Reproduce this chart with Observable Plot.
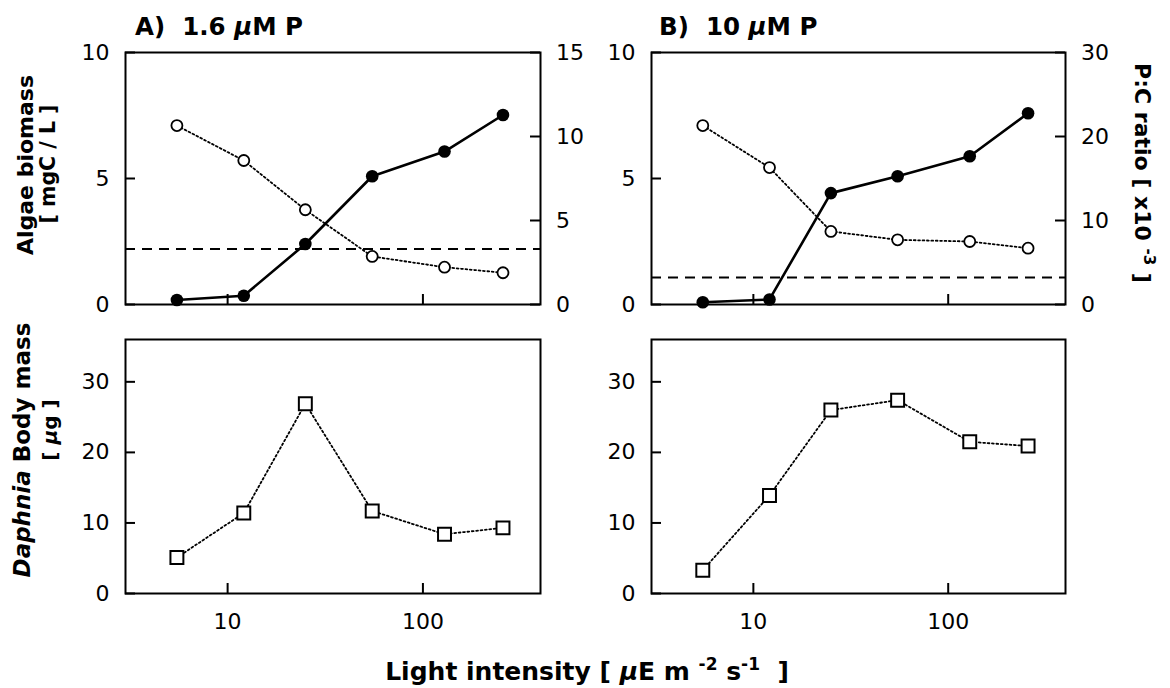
<!DOCTYPE html>
<html><head><meta charset="utf-8">
<script src="https://cdn.jsdelivr.net/npm/d3@7"></script>
<script src="https://cdn.jsdelivr.net/npm/@observablehq/plot@0.6"></script>
<style>
html,body{margin:0;padding:0;background:#fff;}
#chart{position:relative;width:1170px;height:688px;overflow:hidden;background:#fff;}
#chart svg{position:absolute;}
</style></head><body><div id="chart"></div>
<script>
// ---- data ----
const light = [5.5, 12.1, 25, 55, 129, 257];           // light intensity (µE m-2 s-1)
const algaeA = [0.18, 0.35, 2.40, 5.09, 6.07, 7.52];     // algae biomass mgC/L, 1.6 µM P
const pcA = [10.65, 8.57, 5.64, 2.86, 2.22, 1.89];       // P:C ratio x10-3, 1.6 µM P
const algaeB = [0.09, 0.20, 4.42, 5.09, 5.88, 7.59];     // algae biomass, 10 µM P
const pcB = [21.3, 16.3, 8.7, 7.7, 7.5, 6.7];            // P:C ratio, 10 µM P
const thresholdA = [3.3];                                 // dashed P:C threshold
const thresholdB = [3.2];
const daphA = [5.1, 11.4, 26.9, 11.7, 8.4, 9.3];          // Daphnia body mass µg, 1.6 µM P
const daphB = [3.3, 13.9, 26.0, 27.4, 21.5, 20.9];        // Daphnia body mass µg, 10 µM P
const xTicks = [10, 100];
const algaeTicks = [0, 5, 10];
const pcTicksA = [0, 5, 10, 15];
const pcTicksB = [0, 10, 20, 30];
const massTicks = [0, 10, 20, 30];

const FONT = "'DejaVu Sans', 'Liberation Sans', sans-serif";
const chart = document.getElementById("chart");
const baseStyle = {background: "transparent", fontFamily: FONT, fontSize: "22px", color: "black", overflow: "visible", maxWidth: "none"};
const xScale = {type: "log", domain: [3, 400], axis: null};
const TICK = 10;     // inward tick length
const W = 585;
const DOTS = "1.8,2.6";

function place(el, left, top) {
  el.style.left = left + "px";
  el.style.top = top + "px";
  chart.append(el);
}

// inward ticks drawn as tick marks inset from the opposite side of the frame
function innerTicksX(ticks, frameH) {
  return Plot.tickX(ticks, {x: d => d, stroke: "black", strokeWidth: 2, insetTop: frameH - TICK});
}
function innerTicksY(ticks, frameW, side) {
  const o = side === "left" ? {insetRight: frameW - TICK} : {insetLeft: frameW - TICK};
  return Plot.tickY(ticks, {y: d => d, stroke: "black", strokeWidth: 2, ...o});
}

function topPanel(left, ml, mr, algae, pc, pcMax, pcTicks, thr) {
  const rows = light.map((x, i) => ({x, algae: algae[i], pc: pc[i]}));
  const H = 330, mt = 52, mb = 26;
  const fw = W - ml - mr, fh = H - mt - mb;
  const base = {width: W, height: H, marginLeft: ml, marginRight: mr, marginTop: mt, marginBottom: mb, style: baseStyle};
  const p1 = Plot.plot({...base, x: xScale, y: {domain: [0, 10], axis: null},
    marks: [
      Plot.frame({stroke: "black", strokeWidth: 2}),
      innerTicksY(algaeTicks, fw, "left"),
      innerTicksX(xTicks, fh),
      Plot.axisY(algaeTicks, {anchor: "left", tickSize: 0, tickPadding: 16, label: null, fontSize: 22}),
      Plot.line(rows, {x: "x", y: "algae", stroke: "black", strokeWidth: 2.6}),
      Plot.dot(rows, {x: "x", y: "algae", r: 6.3, fill: "black"})
    ]});
  const p2 = Plot.plot({...base, x: xScale, y: {domain: [0, pcMax], axis: null},
    marks: [
      innerTicksY(pcTicks, fw, "right"),
      Plot.axisY(pcTicks, {anchor: "right", tickSize: 0, tickPadding: 15.5, label: null, fontSize: 22}),
      Plot.ruleY(thr, {stroke: "black", strokeWidth: 2, strokeDasharray: "10,7"}),
      Plot.line(rows, {x: "x", y: "pc", stroke: "black", strokeWidth: 1.8, strokeDasharray: DOTS}),
      Plot.dot(rows, {x: "x", y: "pc", r: 5.5, fill: "white", stroke: "black", strokeWidth: 1.8})
    ]});
  place(p1, left, 0);
  place(p2, left, 0);
}

function bottomPanel(left, ml, mr, daph) {
  const rows = light.map((x, i) => ({x, m: daph[i]}));
  const H = 378, mt = 29, mb = 95;
  const fw = W - ml - mr, fh = H - mt - mb;
  const p = Plot.plot({width: W, height: H, marginLeft: ml, marginRight: mr, marginTop: mt, marginBottom: mb, style: baseStyle,
    x: xScale, y: {domain: [0, 36], axis: null},
    marks: [
      Plot.frame({stroke: "black", strokeWidth: 2}),
      innerTicksY(massTicks, fw, "left"),
      innerTicksX(xTicks, fh),
      Plot.axisY(massTicks, {anchor: "left", tickSize: 0, tickPadding: 16, label: null, fontSize: 22}),
      Plot.axisX(xTicks, {anchor: "bottom", tickSize: 0, tickPadding: 20, label: null, fontSize: 22, tickFormat: d => String(d)}),
      Plot.line(rows, {x: "x", y: "m", stroke: "black", strokeWidth: 1.8, strokeDasharray: DOTS}),
      Plot.dot(rows, {x: "x", y: "m", symbol: "square", r: 7.3, fill: "white", stroke: "black", strokeWidth: 2})
    ]});
  place(p, left, 310);
}

topPanel(0, 125, 45, algaeA, pcA, 15, pcTicksA, thresholdA);
topPanel(585, 66, 105, algaeB, pcB, 30, pcTicksB, thresholdB);
bottomPanel(0, 125, 45, daphA);
bottomPanel(585, 66, 105, daphB);

// ---- text layer (titles) ----
const NB = "\u00a0";
const layer = d3.select(chart).append("svg")
  .attr("width", 1170).attr("height", 688)
  .style("left", "0px").style("top", "0px")
  .attr("font-family", FONT);

function rich(x, y, rot, size, parts, anchor = "middle") {
  const t = layer.append("text")
    .attr("transform", `translate(${x},${y}) rotate(${rot})`)
    .attr("text-anchor", anchor).attr("font-size", size)
    .attr("font-weight", "bold").attr("fill", "black");
  let shifted = 0;
  for (const p of parts) {
    const s = t.append("tspan").text(p.t.replace(/ /g, NB));
    if (p.italic) s.attr("font-style", "italic");
    if (p.sup) {
      s.attr("font-size", size * 0.68).attr("dy", -size * 0.42 - shifted);
      shifted = -size * 0.42;
    } else if (shifted) {
      s.attr("dy", -shifted);
      shifted = 0;
    }
  }
}

rich(135, 35, 0, 24.5, [{t: "A)  1.6 "}, {t: "\u03bc", italic: true}, {t: "M P"}], "start");
rich(659, 35, 0, 24.5, [{t: "B)  10 "}, {t: "\u03bc", italic: true}, {t: "M P"}], "start");
rich(33, 165, -90, 22, [{t: "Algae biomass"}]);
rich(55, 164, -90, 20.5, [{t: "[ mgC / L ]"}]);
rich(30, 450, -90, 23, [{t: "Daphnia", italic: true}, {t: " Body mass"}]);
rich(57, 430, -90, 20, [{t: "[ "}, {t: "\u03bc", italic: true}, {t: "g ]"}]);
rich(1135, 173, 90, 22, [{t: "P:C ratio [ x10 "}, {t: "-3", sup: true}, {t: " ]"}]);
rich(587, 680, 0, 25, [{t: "Light intensity [ "}, {t: "\u03bc", italic: true}, {t: "E m "}, {t: "-2", sup: true}, {t: " s"}, {t: "-1", sup: true}, {t: "  ]"}]);
</script>
</body></html>
